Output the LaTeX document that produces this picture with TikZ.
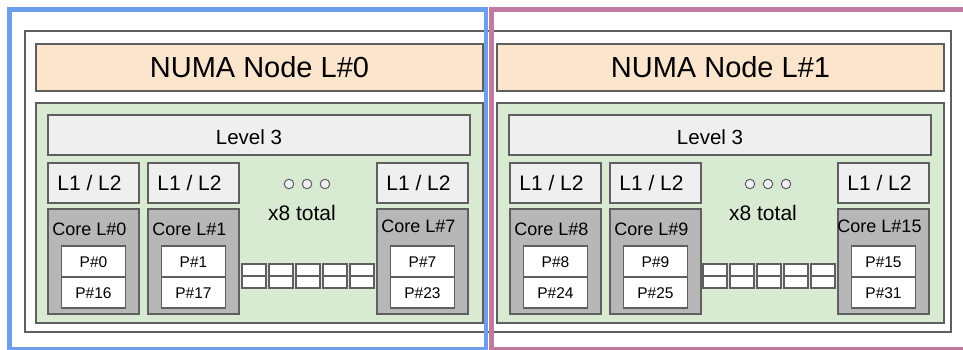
\documentclass[tikz,border=0pt]{standalone}
\usepackage{fontspec}
\setmainfont{Liberation Sans}
\usetikzlibrary{positioning}

\definecolor{linegray}{HTML}{5F5F5F}
\definecolor{cachegray}{HTML}{EFEFEF}
\definecolor{coregray}{HTML}{B7B7B7}
\definecolor{numapeach}{HTML}{FCE5CD}
\definecolor{l3green}{HTML}{D9EAD3}
\definecolor{grpblue}{HTML}{6D9EEB}
\definecolor{grppink}{HTML}{C27BA0}

\newcommand{\setfs}[1]{\fontsize{#1}{#1}\selectfont}

\begin{document}
\begin{tikzpicture}[
    x=1pt, y=-1pt,
    box/.style={
        rectangle, draw=linegray, line width=1.6pt,
        inner sep=0pt, outer sep=0pt, anchor=north west
    },
    frame/.style={
        rectangle, line width=4.5pt,
        inner sep=0pt, outer sep=0pt, anchor=north west
    },
    numa/.style={box, fill=numapeach, minimum width=447pt, minimum height=47pt,
        font=\setfs{29}, text height=20.8pt, text depth=0pt},
    l3grp/.style={box, fill=l3green, minimum width=447pt, minimum height=220pt},
    lthree/.style={box, fill=cachegray, minimum width=422pt, minimum height=40pt},
    cache/.style={box, fill=cachegray, minimum width=91pt, minimum height=40pt},
    core/.style={box, fill=coregray, minimum width=91pt, minimum height=105pt},
    pbox/.style={box, fill=white, minimum width=64pt, minimum height=31pt,
        font=\setfs{15.5}, text height=11.1pt, text depth=0pt},
    sq/.style={box, fill=white, minimum width=24pt, minimum height=12pt},
    dot/.style={circle, draw=linegray, fill=cachegray, line width=1pt,
        minimum size=9.5pt, inner sep=0pt},
    l3txt/.style={inner sep=0pt, font=\setfs{20.5}, text height=14.7pt, text depth=0pt},
    midtxt/.style={inner sep=0pt, font=\setfs{21}, text height=15pt, text depth=0pt},
    coretxt/.style={inner sep=0pt, font=\setfs{18}},
]
\useasboundingbox (0,0) rectangle (963,350);
\clip (0,0) rectangle (963,350);

% package
\node[box, fill=white, minimum width=926pt, minimum height=301pt] (pkg) at (25,31) {};

% the two NUMA nodes with their L3, ellipsis and spare cores
\foreach \n/\dx in {0/0, 1/461} {
  \node[numa] (numa\n) at (36+\dx,44) {NUMA Node L\#\n};
  \node[l3grp] (grp\n) at (36+\dx,103) {};
  \node[lthree] (lthree\n) at (48+\dx,115) {};
  \node[l3txt, xshift=-10pt, yshift=-2.5pt] (lthreetxt\n) at (lthree\n.center) {Level 3};
  \foreach \k in {0,1,2}
    \node[dot] (dot\n\k) at (289+18*\k+\dx,184) {};
  \node[midtxt, anchor=base] (total\n) at (302+\dx,220) {x8 total};
  \foreach \k in {0,...,4} {
    \node[sq] (sqa\n\k) at (242+27*\k+\dx,264) {};
    \node[sq, below=0pt of sqa\n\k] (sqb\n\k) {};
  }
}

% cores: x / core / first PU / second PU / label baseline
\foreach \cx/\cn/\pu/\pl/\by in {48/0/0/16/235, 148/1/1/17/235, 377/7/7/23/232,
                                 510/8/8/24/235, 610/9/9/25/235, 838/15/15/31/232} {
  \node[cache] (cache\cn) at (\cx,163) {};
  \node[midtxt, xshift=-4pt] (cachetxt\cn) at (cache\cn.center) {L1 / L2};
  \node[core] (core\cn) at (\cx,209) {};
  \node[coretxt, anchor=base] (coretxt\cn) at (\cx+41.5,\by) {Core L\#\cn};
  \node[pbox] (pu\pu) at (\cx+13.5,246) {P\#\pu};
  \node[pbox, below=0pt of pu\pu] (pu\pl) {P\#\pl};
}

% group outlines
\node[frame, draw=grpblue, minimum width=476.5pt, minimum height=340pt] (frame0) at (9.5,9.5) {};
\node[frame, draw=grppink, minimum width=488.5pt, minimum height=340pt] (frame1) at (491.5,9.5) {};
\end{tikzpicture}
\end{document}
